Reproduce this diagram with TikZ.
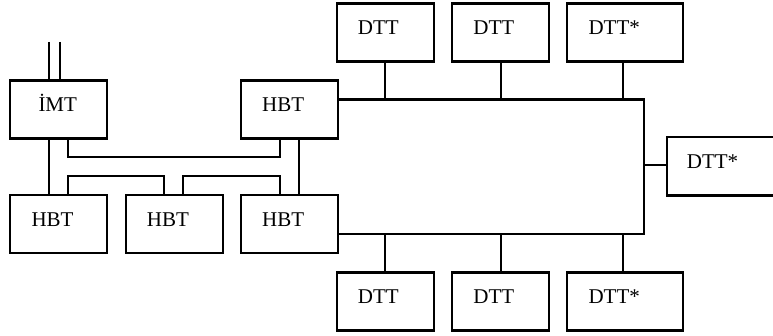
\documentclass[tikz,border=0pt]{standalone}
\usepackage{fontspec}
\setmainfont{Liberation Serif}
\usetikzlibrary{calc}
\tikzset{
  unit/.style={draw, line width=2.3pt, outer sep=0pt, inner sep=0pt,
    minimum width=97pt, minimum height=58.2pt},
  wide/.style={minimum width=116pt},
  tag/.style 2 args={label={[anchor=base west, inner sep=0pt, xshift=#1,
    yshift=-31.6pt, font=\fontsize{21}{24}\selectfont]north west:#2}},
  link/.style={line width=2.3pt, line cap=rect}
}
\begin{document}
\begin{tikzpicture}[x=1pt, y=-1pt]
  \useasboundingbox (0,0) rectangle (773,336);
  \clip (0,0) rectangle (773,336);

  % switching units on the left
  \node[unit, tag={28pt}{İMT}] (imt)  at (58.8,109.5)  {};
  \node[unit, tag={21pt}{HBT}] (hbtA) at (289.5,109.5) {};
  \node[unit, tag={21pt}{HBT}] (hbtB) at (58.8,224.2)  {};
  \node[unit, tag={21pt}{HBT}] (hbtC) at (174.2,224.2) {};
  \node[unit, tag={21pt}{HBT}] (hbtD) at (289.5,224.2) {};

  % terminals along the ring
  \node[unit, tag={21pt}{DTT}]        (dttA) at (385.2,32.5)  {};
  \node[unit, tag={21pt}{DTT}]        (dttB) at (500.7,32.5)  {};
  \node[unit, wide, tag={21pt}{DTT*}] (dttC) at (625.3,32.5)  {};
  \node[unit, tag={21pt}{DTT}]        (dttD) at (385.2,301.5) {};
  \node[unit, tag={21pt}{DTT}]        (dttE) at (500.7,301.5) {};
  \node[unit, wide, tag={21pt}{DTT*}] (dttF) at (625.3,301.5) {};
  \node[unit, wide, tag={19.4pt}{DTT*}] (dttG) at (725.3,166.3) {};

  % incoming trunk
  \coordinate (inA) at (49.3,42);
  \coordinate (inB) at (60.3,42);
  \draw[line width=2.3pt] (inA) -- (inA |- imt.north);
  \draw[line width=2.3pt] (inB) -- (inB |- imt.north);

  % levels of the horizontal runs
  \coordinate (runA) at (0,157.3);
  \coordinate (runB) at (0,176);

  % links between the switching units
  \coordinate (p1) at ($(imt.south west)+(58,0)$);
  \coordinate (p2) at ($(hbtA.south west)+(39,0)$);
  \coordinate (p3) at ($(hbtB.north west)+(58,0)$);
  \coordinate (p4) at ($(hbtC.north west)+(38.3,0)$);
  \coordinate (p5) at ($(hbtC.north west)+(57,0)$);
  \coordinate (p6) at ($(hbtD.north west)+(39,0)$);
  \draw[link] ($(imt.south west)+(39,0)$) -- ($(hbtB.north west)+(39,0)$);
  \draw[link] (p1) -- (p1 |- runA) -- (p2 |- runA) -- (p2);
  \draw[link] ($(hbtA.south west)+(58,0)$) -- ($(hbtD.north west)+(58,0)$);
  \draw[link] (p3) -- (p3 |- runB) -- (p4 |- runB) -- (p4);
  \draw[link] (p5) -- (p5 |- runB) -- (p6 |- runB) -- (p6);

  % ring bus
  \coordinate (busNE) at (644,99.5);
  \coordinate (busSE) at (644,234);
  \draw[link] (hbtA.east |- busNE) -- (busNE) -- (busSE) -- (hbtD.east |- busSE);

  % terminal drops
  \coordinate (q1) at ($(dttC.south west)+(55.7,0)$);
  \coordinate (q2) at ($(dttF.north west)+(55.7,0)$);
  \coordinate (q3) at ($(dttG.west)+(0,-1.3)$);
  \foreach \t in {dttA,dttB} {
    \draw[link] (\t.south) -- (\t.south |- busNE);
  }
  \draw[link] (q1) -- (q1 |- busNE);
  \foreach \t in {dttD,dttE} {
    \draw[link] (\t.north) -- (\t.north |- busSE);
  }
  \draw[link] (q2) -- (q2 |- busSE);
  \draw[link] (q3) -- (q3 -| busNE);
\end{tikzpicture}
\end{document}
